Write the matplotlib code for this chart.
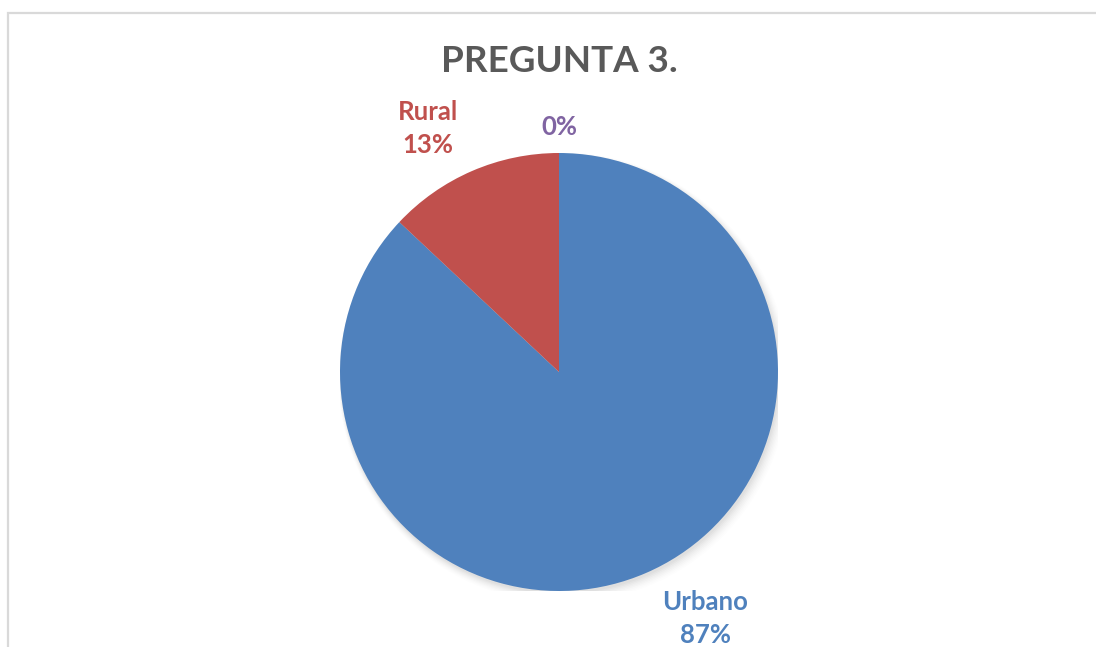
import numpy as np
import matplotlib
matplotlib.use("Agg")
import matplotlib.pyplot as plt
from matplotlib.patches import Rectangle, Circle

categories = ["Urbano", "Rural", ""]
values = [87, 13, 0]
colors = ["#4F81BD", "#C0504D", "#8064A2"]
title = "PREGUNTA 3."

plt.rcParams['font.family'] = ['Lato', 'DejaVu Sans']

W, H = 1096, 647
fig = plt.figure(figsize=(W / 100, H / 100), dpi=100)
fig.patch.set_facecolor("white")

# chart-area border (cropped at right & bottom)
fig.patches.append(Rectangle((8 / W, -0.1), 1.2, 1 - 13 / H + 0.1, transform=fig.transFigure,
                             fill=False, edgecolor="#D9D9D9", linewidth=1.6, zorder=0))

cx, cy, r = 559, 372, 219
ax = fig.add_axes([(cx - r) / W, (H - cy - r) / H, 2 * r / W, 2 * r / H])

# soft shadow
for i, a in enumerate(np.linspace(0.05, 0.012, 8)):
    ax.add_patch(Circle((0.006 + i * 0.002, -0.012 - i * 0.002), 1.0 + i * 0.004,
                        facecolor="black", alpha=a * 0.5, edgecolor="none", zorder=0))

wedges, _ = ax.pie(values, colors=colors, startangle=90, counterclock=False,
                   radius=1.0, wedgeprops=dict(edgecolor="none", linewidth=0),
                   normalize=True)
for w in wedges:
    w.set_zorder(2)
ax.set_xlim(-1, 1)
ax.set_ylim(-1, 1)
ax.axis("off")

total = sum(values)
# label placement: (radius, angle adjust) per slice
place = [(1.31, 7.2), (1.264, 4.8), (1.12, 0.0)]
for w, cat, v, c, (rad, dang) in zip(wedges, categories, values, colors, place):
    mid = (w.theta1 + w.theta2) / 2 + dang
    x = rad * np.cos(np.radians(mid))
    y = rad * np.sin(np.radians(mid))
    pct = f"{round(100 * v / total)}%"
    txt = f"{cat}\n{pct}" if cat else pct
    ax.text(x, y, txt, ha="center", va="center", color=c, fontsize=18.5,
            fontweight="bold", linespacing=1.45, clip_on=False)

fig.text(cx / W, 1 - 62 / H, title, ha="center", va="center", fontsize=26.5,
         fontweight="bold", color="#595959")

fig.savefig("out.png", dpi=100)
